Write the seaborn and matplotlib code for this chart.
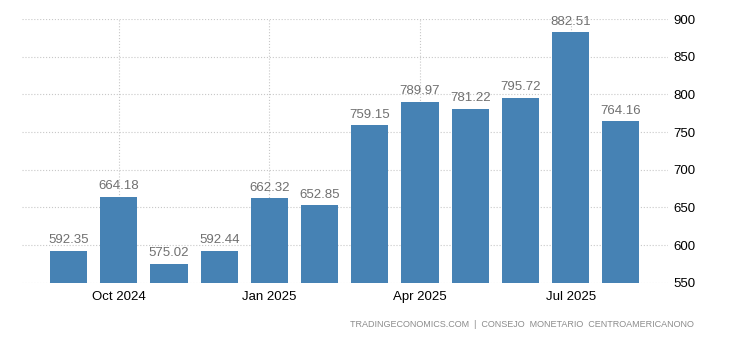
import seaborn as sns
import matplotlib.pyplot as plt
import pandas as pd

months = ['Sep 2024', 'Oct 2024', 'Nov 2024', 'Dec 2024', 'Jan 2025', 'Feb 2025',
          'Mar 2025', 'Apr 2025', 'May 2025', 'Jun 2025', 'Jul 2025', 'Aug 2025']
values = [592.35, 664.18, 575.02, 592.44, 662.32, 652.85,
          759.15, 789.97, 781.22, 795.72, 882.51, 764.16]
tick_months = ['Oct 2024', 'Jan 2025', 'Apr 2025', 'Jul 2025']
y_ticks = [550, 600, 650, 700, 750, 800, 850, 900]

df = pd.DataFrame({'month': months, 'value': values})

sns.set_style('white')
plt.rcParams['font.family'] = ['Liberation Sans', 'DejaVu Sans']

fig = plt.figure(figsize=(7.3, 3.4), dpi=100)
ax = fig.add_axes([0.030, 0.168, 0.885, 0.776])

sns.barplot(data=df, x='month', y='value', order=months, color='#4682b4',
            saturation=1, width=0.74, linewidth=0, ax=ax, zorder=3)

for i, v in enumerate(values):
    ax.text(i, v + 6, f'{v:.2f}', ha='center', va='bottom',
            fontsize=9.5, color='#707070', zorder=4)

ax.set_ylim(550, 900)
ax.set_xlim(-0.93, 11.94)
ax.set_yticks(y_ticks)
ax.yaxis.tick_right()
ax.tick_params(axis='y', length=0, labelsize=9.5, colors='black', pad=4)

tick_pos = [months.index(m) for m in tick_months]
ax.set_xticks(tick_pos)
ax.set_xticklabels(tick_months)
ax.tick_params(axis='x', length=4, labelsize=9.5, colors='#cccccc', pad=2)
for lbl in ax.get_xticklabels():
    lbl.set_color('black')

ax.grid(True, axis='both', linestyle=':', color='#c8c8c8', linewidth=0.8, zorder=0)
ax.set_xlabel('')
ax.set_ylabel('')
for s in ax.spines.values():
    s.set_visible(False)

fig.text(0.950, 0.045, 'TRADINGECONOMICS.COM  |  CONSEJO  MONETARIO  CENTROAMERICANONO',
         ha='right', va='center', fontsize=6.5, color='#8c8c8c')

plt.savefig('out.png', dpi=100)
